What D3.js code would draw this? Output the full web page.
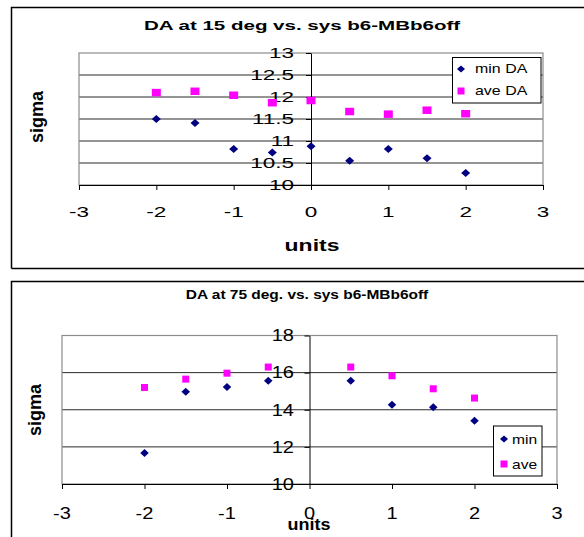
<!DOCTYPE html>
<html>
<head>
<meta charset="utf-8">
<script src="https://cdn.jsdelivr.net/npm/d3@7"></script>
<style>
  body { margin: 0; background: #fff; }
  svg { display: block; font-family: Arial, "Liberation Sans", sans-serif; }
</style>
</head>
<body>
<div id="chart"></div>
<script>
// data
const xTicks = [-3, -2, -1, 0, 1, 2, 3];

const units15 = [-2, -1.5, -1, -0.5, 0, 0.5, 1, 1.5, 2];
const minDA15 = [11.5, 11.41, 10.82, 10.74, 10.88, 10.55, 10.82, 10.61, 10.27];
const aveDA15 = [12.1, 12.13, 12.04, 11.87, 11.92, 11.67, 11.61, 11.7, 11.62];
const yTicks15 = [10, 10.5, 11, 11.5, 12, 12.5, 13];

const units75 = [-2, -1.5, -1, -0.5, 0.5, 1, 1.5, 2];
const min75 = [11.67, 14.97, 15.22, 15.56, 15.56, 14.27, 14.14, 13.41];
const ave75 = [15.2, 15.65, 15.97, 16.3, 16.3, 15.83, 15.13, 14.63];
const yTicks75 = [10, 12, 14, 16, 18];

const NAVY = "#000080";
const MAGENTA = "#ff00ff";

const svg = d3.select("#chart").append("svg")
    .attr("width", 584)
    .attr("height", 537);

// horizontally stretched text, like the original bitmap
function stext(g, x, y, txt, size, sx, anchor, bold) {
  return g.append("text")
      .attr("transform", `translate(${x},${y}) scale(${sx},1)`)
      .attr("text-anchor", anchor || "middle")
      .attr("font-size", size)
      .attr("font-weight", bold ? "bold" : "normal")
      .text(txt);
}

function marker(g, type, cx, cy, w, h, color) {
  if (type === "square") {
    g.append("rect")
        .attr("x", cx - w / 2).attr("y", cy - h / 2)
        .attr("width", w).attr("height", h)
        .attr("fill", color);
  } else {
    g.append("path")
        .attr("d", `M${cx},${cy - h / 2}L${cx + w / 2},${cy}L${cx},${cy + h / 2}L${cx - w / 2},${cy}Z`)
        .attr("fill", color);
  }
}

function drawChart(c) {
  const g = svg.append("g");

  // outer frame
  g.append("path")
      .attr("d", c.frame)
      .attr("fill", "none")
      .attr("stroke", "#000")
      .attr("stroke-width", 1.5);

  const x = d3.scaleLinear().domain([-3, 3]).range([c.left, c.right]);
  const y = d3.scaleLinear().domain([c.yTicks[0], c.yTicks[c.yTicks.length - 1]]).range([c.bottom, c.top]);

  // gridlines
  g.append("g").selectAll("line")
    .data(c.yTicks.slice(1, -1))
    .join("line")
      .attr("x1", c.left).attr("x2", c.right)
      .attr("y1", d => y(d)).attr("y2", d => y(d))
      .attr("stroke", "#2a2a2a")
      .attr("stroke-width", 1);

  // plot border
  g.append("rect")
      .attr("x", c.left).attr("y", c.top)
      .attr("width", c.right - c.left).attr("height", c.bottom - c.top)
      .attr("fill", "none")
      .attr("stroke", "#8c8c8c")
      .attr("stroke-width", 1.2);

  // x axis on the y minimum
  const xAxis = g.append("g")
      .attr("transform", `translate(0,${c.bottom})`)
      .call(d3.axisBottom(x).tickValues(xTicks).tickSize(5).tickSizeOuter(5));
  xAxis.select(".domain").attr("stroke", "#000");
  xAxis.selectAll("line").attr("stroke", "#000");
  xAxis.selectAll("text").remove();
  xTicks.forEach(t => {
    stext(g, x(t), c.xLabelY, String(t), c.tickSize, c.sx);
  });

  // y axis crossing at x = 0
  const yAxis = g.append("g")
      .attr("transform", `translate(${x(0)},0)`)
      .call(d3.axisLeft(y).tickValues(c.yTicks).tickSize(5).tickSizeOuter(0));
  yAxis.select(".domain").attr("stroke", "#000");
  yAxis.selectAll("line").attr("stroke", "#000");
  yAxis.selectAll("text").remove();
  c.yTicks.forEach(t => {
    stext(g, c.yLabelRight, y(t) + c.tickSize * 0.36, String(t), c.tickSize, c.sx, "end");
  });

  // points
  c.xs.forEach((u, i) => marker(g, "diamond", x(u), y(c.minVals[i]), c.dia[0], c.dia[1], NAVY));
  c.xs.forEach((u, i) => marker(g, "square", x(u), y(c.aveVals[i]), c.sq[0], c.sq[1], MAGENTA));

  // legend
  const L = c.legend;
  g.append("rect")
      .attr("x", L.x).attr("y", L.y).attr("width", L.w).attr("height", L.h)
      .attr("fill", "#fff").attr("stroke", "#000").attr("stroke-width", 1);
  marker(g, "diamond", L.mx, L.y1, 8, 7, NAVY);
  marker(g, "square", L.mx, L.y2, 7, 7, MAGENTA);
  stext(g, L.tx, L.y1 + L.size * 0.36, c.names[0], L.size, L.sx, "start");
  stext(g, L.tx, L.y2 + L.size * 0.36, c.names[1], L.size, L.sx, "start");

  // titles
  stext(g, c.titleX, c.titleY, c.title, c.titleSize, c.titleSx, "middle", true);
  stext(g, c.unitsX, c.unitsY, "units", 17, c.unitsSx, "middle", true);
  g.append("text")
      .attr("transform", `translate(${c.sigmaX},${c.sigmaY}) rotate(-90)`)
      .attr("text-anchor", "middle")
      .attr("dy", "0.35em")
      .attr("font-size", 18)
      .attr("font-weight", "bold")
      .text("sigma");
}

drawChart({
  frame: "M11.5,268.5V7.5H590M11.5,268.5H590",
  left: 79, right: 543, top: 53, bottom: 185,
  xs: units15, minVals: minDA15, aveVals: aveDA15, yTicks: yTicks15,
  names: ["min DA", "ave DA"],
  tickSize: 15, sx: 1.5,
  xLabelY: 217, yLabelRight: 294,
  dia: [9, 8], sq: [9, 7.5],
  legend: { x: 452.5, y: 57.5, w: 88.5, h: 45.5, mx: 461, tx: 475, y1: 69, y2: 91, size: 12, sx: 1.33 },
  title: "DA at 15 deg vs. sys b6-MBb6off", titleX: 302, titleY: 30, titleSize: 13, titleSx: 1.58,
  unitsX: 312, unitsY: 251, unitsSx: 1.35,
  sigmaX: 37, sigmaY: 117
});

drawChart({
  frame: "M11.5,560V281.5H590",
  left: 62, right: 557, top: 335.5, bottom: 484,
  xs: units75, minVals: min75, aveVals: ave75, yTicks: yTicks75,
  names: ["min", "ave"],
  tickSize: 16, sx: 1.25,
  xLabelY: 519, yLabelRight: 294,
  dia: [8.5, 8], sq: [7, 7],
  legend: { x: 493.5, y: 426, w: 48.5, h: 50, mx: 504, tx: 512, y1: 439, y2: 464, size: 13, sx: 1.2 },
  title: "DA at 75 deg. vs. sys b6-MBb6off", titleX: 307, titleY: 299, titleSize: 12, titleSx: 1.29,
  unitsX: 309, unitsY: 530, unitsSx: 1.06,
  sigmaX: 34.5, sigmaY: 410
});
</script>
</body>
</html>
